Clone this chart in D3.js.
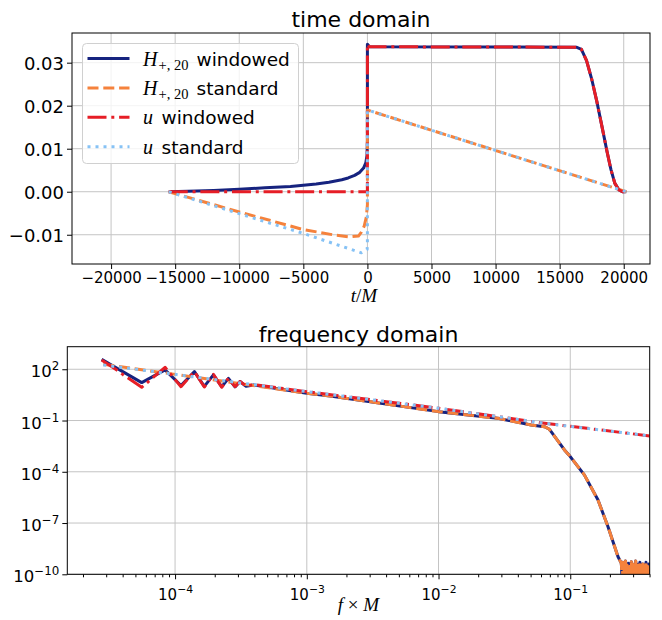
<!DOCTYPE html>
<html>
<head>
<meta charset="utf-8">
<script src="https://cdn.jsdelivr.net/npm/d3@7"></script>
<style>
body { margin: 0; background: #fff; }
svg text { font-family: "DejaVu Sans", sans-serif; fill: #000; }
.math { font-family: "Liberation Serif", "DejaVu Serif", serif; }
</style>
</head>
<body>
<svg id="chart" width="662" height="620"></svg>
<script>

// ---------------------------------------------------------------------------
// data: time domain, [t/M, value]
// ---------------------------------------------------------------------------
var timeTicks = [-20000, -15000, -10000, -5000, 0, 5000, 10000, 15000, 20000];
var ampTicks = [-0.01, 0.00, 0.01, 0.02, 0.03];

var hWinRise = [[-15500, 0], [-14000, 0.0001], [-12000, 0.0003], [-10000, 0.0006], [-8000, 0.0009],
    [-6000, 0.0012], [-5000, 0.0015], [-4000, 0.0018], [-3000, 0.0022], [-2000, 0.0028],
    [-1500, 0.0032], [-1000, 0.0038], [-600, 0.0045], [-300, 0.0055], [-120, 0.0068],
    [-30, 0.0085], [0, 0.012]];
var uWinRise = [[-15500, 0], [0, 0]];
// plateau and taper shared by both windowed signals
var windowTail = [[0, 0.0343], [150, 0.0337], [16300, 0.0336], [16700, 0.0331], [17100, 0.0305],
    [17500, 0.0262], [17900, 0.0210], [18300, 0.0152], [18700, 0.0093], [19000, 0.0052],
    [19300, 0.0020], [19600, 0.0005], [19900, 0.0000], [20200, 0.0000]];
var hStdTime = [[-15500, 0], [-10000, -0.0047], [-5000, -0.0088], [-2500, -0.0101], [-1400, -0.0105],
    [-700, -0.0103], [-470, -0.0094], [-250, -0.0080], [-80, -0.0058], [0, -0.003],
    [0, 0.019], [20200, 0]];
var uStdTime = [[-15500, 0], [-10000, -0.0051], [-5000, -0.0097], [-470, -0.0142], [-20, -0.0134],
    [0, -0.0125], [0, 0.019], [20200, 0]];

// ---------------------------------------------------------------------------
// data: frequency domain, [f*M, |h|]
// ---------------------------------------------------------------------------
var freqTicks = [1e-4, 1e-3, 1e-2, 1e-1];
var specTicks = [1e-10, 1e-7, 1e-4, 1e-1, 1e2];

var hWinLow = [[2.77e-5, 380], [5.58e-5, 16.6], [8.39e-5, 91.2], [1.109e-4, 11.2], [1.403e-4, 72.4],
    [1.667e-4, 10], [1.954e-4, 46.8], [2.259e-4, 9.55], [2.541e-4, 29.5], [2.851e-4, 9.33],
    [3.112e-4, 19.1], [3.459e-4, 10], [3.936e-4, 12.0]];
var hStdLow = [[2.851e-5, 195], [1e-4, 50.1], [3.162e-4, 14.1]];
// H spectrum above 1e-3, identical for both H curves
var hHigh = [[1e-3, 3.98], [1.503e-3, 2.75], [1e-2, 0.331], [2.818e-2, 0.135], [5.047e-2, 0.055],
    [6.368e-2, 0.0437], [6.9e-2, 0.032], [7.161e-2, 0.0224], [9.036e-2, 1.9e-3], [0.1, 7.76e-4],
    [0.1279, 6.6e-5], [0.1622, 2.29e-6], [0.1932, 6.3e-8], [0.2301, 1.1e-9], [0.2438, 4.5e-10]];
var noiseF = [0.245, 0.248, 0.251, 0.254, 0.257, 0.260, 0.263, 0.267, 0.270, 0.273,
    0.277, 0.280, 0.284, 0.287, 0.291, 0.294, 0.298, 0.302, 0.306, 0.310,
    0.314, 0.318, 0.322, 0.326, 0.330, 0.334, 0.338, 0.343, 0.347, 0.352,
    0.356, 0.361, 0.366, 0.371, 0.376, 0.381, 0.386, 0.391, 0.396, 0.401];
var noiseA = [3e-10, 2e-11, 5e-10, 1e-11, 4e-10, 3e-11, 6e-10, 1e-11, 3.5e-10, 2e-11,
    4.5e-10, 1e-11, 3e-10, 2e-11, 5.5e-10, 1e-11, 4e-10, 3e-11, 3e-10, 1e-11,
    6e-10, 2e-11, 3.5e-10, 1e-11, 4e-10, 2e-11, 5e-10, 1e-11, 3e-10, 3e-11,
    4e-10, 1e-11, 3.5e-10, 2e-11, 5e-10, 1e-11, 3e-10, 2e-11, 4e-10, 2e-10];
var uWinLow = [[2.77e-5, 347], [3.61e-5, 91], [4.05e-5, 46.8], [5.58e-5, 8.81], [8.39e-5, 130],
    [1.109e-4, 9.55], [1.403e-4, 72.4], [1.667e-4, 9.12], [1.954e-4, 50.1], [2.259e-4, 8.81],
    [2.541e-4, 29.5], [2.851e-4, 9.55], [3.112e-4, 19.1], [3.459e-4, 10.5], [3.936e-4, 12.6]];
var uStdLow = [[2.851e-5, 178]];
var uHigh = [[1e-3, 4.9], [1e-2, 0.525], [6.368e-2, 0.0692], [0.401, 0.0126]];

var noise = noiseF.map(function(f, i) { return [f, noiseA[i]]; });

// series styles
var series = [
    {name: "hWin", color: "#16237f", dash: null},
    {name: "hStd", color: "#f5823c", dash: "11,4.8"},
    {name: "uWin", color: "#e61e26", dash: "19,4.8,3,4.8"},
    {name: "uStd", color: "#86c2f5", dash: "3,5"}
];
var timeData = {
    hWin: hWinRise.concat(windowTail),
    hStd: hStdTime,
    uWin: uWinRise.concat(windowTail),
    uStd: uStdTime
};
var freqData = {
    hWin: hWinLow.concat(hHigh, noise),
    hStd: hStdLow.concat(hHigh, noise),
    uWin: uWinLow.concat(uHigh),
    uStd: uStdLow.concat(uHigh)
};

var svg = d3.select("#chart");
var gridColor = "#c4c4c4";

// =============================================================================
// TIME DOMAIN
// =============================================================================
var tBox = {left: 72, right: 650, top: 33, bottom: 264};
var xT = d3.scaleLinear().domain([-23050, 22050]).range([tBox.left, tBox.right]);
var yT = d3.scaleLinear().domain([-0.0168, 0.0369]).range([tBox.bottom, tBox.top]);

var gT = svg.append("g");

gT.selectAll(".vgrid").data(timeTicks).enter().append("line")
    .attr("x1", function(d) { return xT(d); }).attr("x2", function(d) { return xT(d); })
    .attr("y1", tBox.top).attr("y2", tBox.bottom)
    .attr("stroke", gridColor).attr("stroke-width", 1);
gT.selectAll(".hgrid").data(ampTicks).enter().append("line")
    .attr("x1", tBox.left).attr("x2", tBox.right)
    .attr("y1", function(d) { return yT(d); }).attr("y2", function(d) { return yT(d); })
    .attr("stroke", gridColor).attr("stroke-width", 1);

svg.append("clipPath").attr("id", "clipT").append("rect")
    .attr("x", tBox.left).attr("y", tBox.top)
    .attr("width", tBox.right - tBox.left).attr("height", tBox.bottom - tBox.top);

var lineT = d3.line().x(function(d) { return xT(d[0]); }).y(function(d) { return yT(d[1]); });
var plotT = gT.append("g").attr("clip-path", "url(#clipT)");
series.forEach(function(s) {
    plotT.append("path")
        .attr("d", lineT(timeData[s.name]))
        .attr("fill", "none")
        .attr("stroke", s.color)
        .attr("stroke-width", 3)
        .attr("stroke-dasharray", s.dash)
        .attr("stroke-linejoin", "round");
});

var xAxisT = gT.append("g")
    .attr("transform", "translate(0," + tBox.bottom + ")")
    .call(d3.axisBottom(xT).tickValues(timeTicks).tickSize(5).tickSizeOuter(0).tickPadding(3)
        .tickFormat(d3.format("d")));
xAxisT.selectAll("text").style("font-size", "15px");

var yAxisT = gT.append("g")
    .attr("transform", "translate(" + tBox.left + ",0)")
    .call(d3.axisLeft(yT).tickValues(ampTicks).tickSize(5).tickSizeOuter(0).tickPadding(3)
        .tickFormat(d3.format(".2f")));
yAxisT.selectAll("text").style("font-size", "18px").attr("dy", "0.36em");

[xAxisT, yAxisT].forEach(function(a) { a.select(".domain").remove(); });

gT.append("rect")
    .attr("x", tBox.left).attr("y", tBox.top)
    .attr("width", tBox.right - tBox.left).attr("height", tBox.bottom - tBox.top)
    .attr("fill", "none").attr("stroke", "#000").attr("stroke-width", 1);

gT.append("text").attr("x", (tBox.left + tBox.right) / 2).attr("y", 27)
    .attr("text-anchor", "middle").style("font-size", "22px").text("time domain");

var tLabel = gT.append("text").attr("class", "math")
    .attr("x", (tBox.left + tBox.right) / 2 + 3).attr("y", 302)
    .attr("text-anchor", "middle").style("font-size", "19px");
tLabel.append("tspan").style("font-style", "italic").text("t");
tLabel.append("tspan").text("/");
tLabel.append("tspan").style("font-style", "italic").text("M");

// legend
var legend = gT.append("g");
legend.append("rect")
    .attr("x", 82.5).attr("y", 43.5).attr("width", 216).attr("height", 120).attr("rx", 4)
    .attr("fill", "#fff").attr("fill-opacity", 0.8).attr("stroke", "#d0d0d0");

var legendText = [
    {sym: "H", sub: "+, 20", word: "windowed"},
    {sym: "H", sub: "+, 20", word: "standard"},
    {sym: "u", sub: null, word: "windowed"},
    {sym: "u", sub: null, word: "standard"}
];
series.forEach(function(s, i) {
    var ly = 58.5 + i * 29.4;
    legend.append("line")
        .attr("x1", 87.5).attr("x2", 129.5).attr("y1", ly).attr("y2", ly)
        .attr("stroke", s.color).attr("stroke-width", 3)
        .attr("stroke-dasharray", s.dash);
    var lt = legendText[i];
    var m = legend.append("text").attr("class", "math")
        .attr("x", 143).attr("y", ly + 7).style("font-size", "20px");
    m.append("tspan").style("font-style", "italic").text(lt.sym);
    if (lt.sub) {
        m.append("tspan").attr("dx", 1).attr("dy", 4).style("font-size", "14.5px").text(lt.sub);
    }
    legend.append("text")
        .attr("x", lt.sub ? 196.5 : 161.5).attr("y", ly + 7)
        .style("font-size", "18.5px").text(lt.word);
});

// =============================================================================
// FREQUENCY DOMAIN
// =============================================================================
var fBox = {left: 67.3, right: 649.7, top: 346.7, bottom: 574.3};
var xF = d3.scaleLog().domain([1.52e-5, 0.401]).range([fBox.left, fBox.right]);
var yF = d3.scaleLog().domain([1e-10, 2090]).range([fBox.bottom, fBox.top]);

var gF = svg.append("g");

gF.selectAll(".vgrid").data(freqTicks).enter().append("line")
    .attr("x1", function(d) { return xF(d); }).attr("x2", function(d) { return xF(d); })
    .attr("y1", fBox.top).attr("y2", fBox.bottom)
    .attr("stroke", gridColor).attr("stroke-width", 1);
gF.selectAll(".hgrid").data(specTicks).enter().append("line")
    .attr("x1", fBox.left).attr("x2", fBox.right)
    .attr("y1", function(d) { return yF(d); }).attr("y2", function(d) { return yF(d); })
    .attr("stroke", gridColor).attr("stroke-width", 1);

svg.append("clipPath").attr("id", "clipF").append("rect")
    .attr("x", fBox.left).attr("y", fBox.top)
    .attr("width", fBox.right - fBox.left).attr("height", fBox.bottom - fBox.top);

var lineF = d3.line().x(function(d) { return xF(d[0]); }).y(function(d) { return yF(d[1]); });
var plotF = gF.append("g").attr("clip-path", "url(#clipF)");
series.forEach(function(s) {
    plotF.append("path")
        .attr("d", lineF(freqData[s.name]))
        .attr("fill", "none")
        .attr("stroke", s.color)
        .attr("stroke-width", 3)
        .attr("stroke-dasharray", s.dash)
        .attr("stroke-linejoin", "round");
});

function powerLabel(sel, size) {
    sel.each(function(d) {
        var t = d3.select(this).text(null).style("font-size", size + "px");
        var e = Math.round(Math.log10(d));
        t.append("tspan").text("10");
        t.append("tspan").attr("dy", -size * 0.42).style("font-size", (size * 0.72) + "px")
            .text(String(e).replace("-", "\u2212"));
    });
}

var minorF = xF.ticks().filter(function(d) {
    return Math.abs(Math.log10(d) - Math.round(Math.log10(d))) > 1e-6;
});

var xAxisF = gF.append("g")
    .attr("transform", "translate(0," + fBox.bottom + ")")
    .call(d3.axisBottom(xF).tickValues(freqTicks).tickSize(5).tickSizeOuter(0).tickPadding(6));
xAxisF.selectAll(".tick text").call(powerLabel, 15);
xAxisF.selectAll(".tick text").attr("dy", "0.95em");

var xMinorF = gF.append("g")
    .attr("transform", "translate(0," + fBox.bottom + ")")
    .call(d3.axisBottom(xF).tickValues(minorF).tickSize(3).tickSizeOuter(0).tickFormat(""));

var yAxisF = gF.append("g")
    .attr("transform", "translate(" + fBox.left + ",0)")
    .call(d3.axisLeft(yF).tickValues(specTicks).tickSize(5).tickSizeOuter(0).tickPadding(3));
yAxisF.selectAll(".tick text").call(powerLabel, 16.5);
yAxisF.selectAll(".tick text").attr("dy", "0.46em");

[xAxisF, xMinorF, yAxisF].forEach(function(a) { a.select(".domain").remove(); });

gF.append("rect")
    .attr("x", fBox.left).attr("y", fBox.top)
    .attr("width", fBox.right - fBox.left).attr("height", fBox.bottom - fBox.top)
    .attr("fill", "none").attr("stroke", "#000").attr("stroke-width", 1);

gF.append("text").attr("x", (fBox.left + fBox.right) / 2).attr("y", 342)
    .attr("text-anchor", "middle").style("font-size", "22px").text("frequency domain");

var fLabel = gF.append("text").attr("class", "math")
    .attr("x", (fBox.left + fBox.right) / 2).attr("y", 611)
    .attr("text-anchor", "middle").style("font-size", "19px");
fLabel.append("tspan").style("font-style", "italic").text("f");
fLabel.append("tspan").text(" \u00d7 ");
fLabel.append("tspan").style("font-style", "italic").text("M");

</script>
</body>
</html>
